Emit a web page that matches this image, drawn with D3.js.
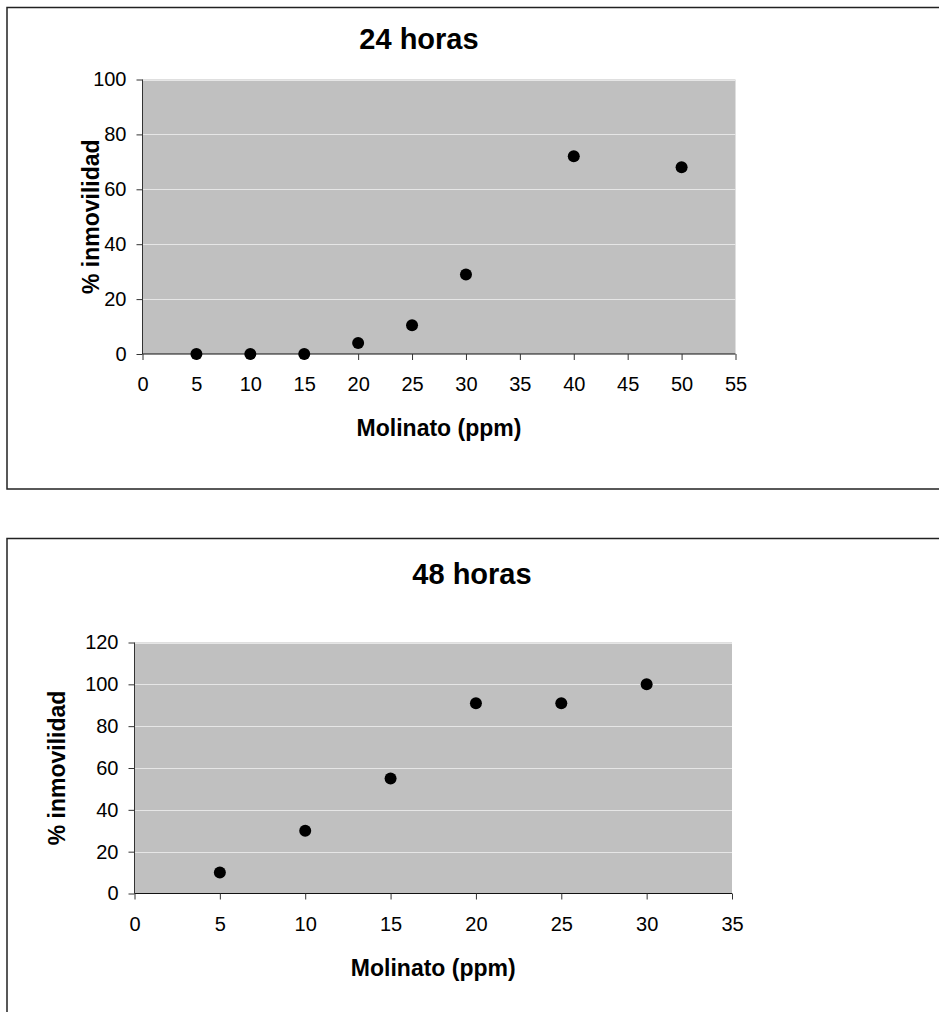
<!DOCTYPE html>
<html>
<head>
<meta charset="utf-8">
<script src="https://cdn.jsdelivr.net/npm/d3@7"></script>
<style>
  html, body { margin: 0; padding: 0; background: #fff; }
  svg { display: block; font-family: Arial, "Liberation Sans", sans-serif; }
</style>
</head>
<body>
<svg id="fig" width="939" height="1012"></svg>
<script>
// Immobility (%) versus Molinato concentration (ppm)
const conc24 = [5, 10, 15, 20, 25, 30, 40, 50];
const inmov24 = [0, 0, 0, 4, 10.5, 29, 72, 68];
const xTicks24 = [0, 5, 10, 15, 20, 25, 30, 35, 40, 45, 50, 55];
const yTicks24 = [0, 20, 40, 60, 80, 100];

const conc48 = [5, 10, 15, 20, 25, 30];
const inmov48 = [10, 30, 55, 91, 91, 100];
const xTicks48 = [0, 5, 10, 15, 20, 25, 30, 35];
const yTicks48 = [0, 20, 40, 60, 80, 100, 120];

const titles = ["24 horas", "48 horas"];
const xTitle = "Molinato (ppm)";
const yTitle = "% inmovilidad";

const svg = d3.select("#fig");
const FONT = "Arial, 'Liberation Sans', sans-serif";

function drawPanel(cfg) {
  const g = svg.append("g");

  // outer chart frame
  g.append("rect")
    .attr("x", cfg.frame.x).attr("y", cfg.frame.y)
    .attr("width", cfg.frame.w).attr("height", cfg.frame.h)
    .attr("fill", "#fff").attr("stroke", "#222").attr("stroke-width", 1.5);

  const x = d3.scaleLinear().domain(cfg.xDomain).range([cfg.plot.left, cfg.plot.right]);
  const y = d3.scaleLinear().domain(cfg.yDomain).range([cfg.plot.bottom, cfg.plot.top]);

  // plot background
  g.append("rect")
    .attr("x", cfg.plot.left).attr("y", cfg.plot.top)
    .attr("width", cfg.plot.right - cfg.plot.left)
    .attr("height", cfg.plot.bottom - cfg.plot.top)
    .attr("fill", "#c0c0c0");

  // horizontal gridlines
  g.append("g").selectAll("line")
    .data(cfg.yTicks.filter(d => d !== cfg.yDomain[0]))
    .join("line")
    .attr("x1", cfg.plot.left).attr("x2", cfg.plot.right)
    .attr("y1", d => Math.round(y(d)) + 0.5).attr("y2", d => Math.round(y(d)) + 0.5)
    .attr("stroke", "#e6e6e6").attr("stroke-width", 1);

  // y axis
  const yAxis = g.append("g")
    .attr("transform", `translate(${cfg.plot.left},0)`)
    .call(d3.axisLeft(y).tickValues(cfg.yTicks).tickSize(6).tickPadding(10).tickFormat(d3.format("d")));
  yAxis.select(".domain").attr("stroke", "#333").attr("d", `M-0,${cfg.plot.bottom}V${cfg.plot.top}`);
  yAxis.selectAll(".tick line").attr("stroke", "#333");
  yAxis.selectAll("text").attr("font-size", 20).attr("fill", "#000").attr("font-family", FONT);

  // x axis
  const xAxis = g.append("g")
    .attr("transform", `translate(0,${y(cfg.yDomain[0])})`)
    .call(d3.axisBottom(x).tickValues(cfg.xTicks).tickSize(6).tickPadding(17).tickFormat(d3.format("d")));
  xAxis.select(".domain").attr("stroke", "#111").attr("d", `M${cfg.plot.left},0H${cfg.plot.right}`);
  xAxis.selectAll(".tick line").attr("stroke", "#333");
  xAxis.selectAll("text").attr("font-size", 20).attr("fill", "#000").attr("font-family", FONT);

  // data points
  g.append("g").selectAll("circle")
    .data(cfg.xs.map((v, i) => [v, cfg.ys[i]]))
    .join("circle")
    .attr("cx", d => x(d[0])).attr("cy", d => y(d[1]))
    .attr("r", 6).attr("fill", "#000");

  // chart title
  g.append("text")
    .attr("x", cfg.titleX).attr("y", cfg.titleY)
    .attr("text-anchor", "middle").attr("font-size", 29).attr("font-weight", "bold")
    .text(cfg.title);

  // axis titles
  g.append("text")
    .attr("x", (cfg.plot.left + cfg.plot.right) / 2).attr("y", cfg.plot.bottom + 82)
    .attr("text-anchor", "middle").attr("font-size", 23).attr("font-weight", "bold")
    .text(xTitle);

  g.append("text")
    .attr("transform", `translate(${cfg.yTitleX},${(cfg.plot.top + cfg.plot.bottom) / 2}) rotate(-90)`)
    .attr("text-anchor", "middle").attr("font-size", 23).attr("font-weight", "bold")
    .text(yTitle);
}

drawPanel({
  frame: { x: 7, y: 7.5, w: 960, h: 481.5 },
  plot: { left: 142.5, right: 735.5, top: 79.5, bottom: 354 },
  xDomain: [0, 55], yDomain: [0, 100],
  xTicks: xTicks24, yTicks: yTicks24,
  xs: conc24, ys: inmov24,
  title: titles[0], titleX: 419, titleY: 49,
  yTitleX: 99
});

drawPanel({
  frame: { x: 7, y: 538.5, w: 960, h: 500 },
  plot: { left: 134.5, right: 732, top: 642.5, bottom: 893.5 },
  xDomain: [0, 35], yDomain: [0, 120],
  xTicks: xTicks48, yTicks: yTicks48,
  xs: conc48, ys: inmov48,
  title: titles[1], titleX: 472, titleY: 584,
  yTitleX: 65
});
</script>
</body>
</html>
